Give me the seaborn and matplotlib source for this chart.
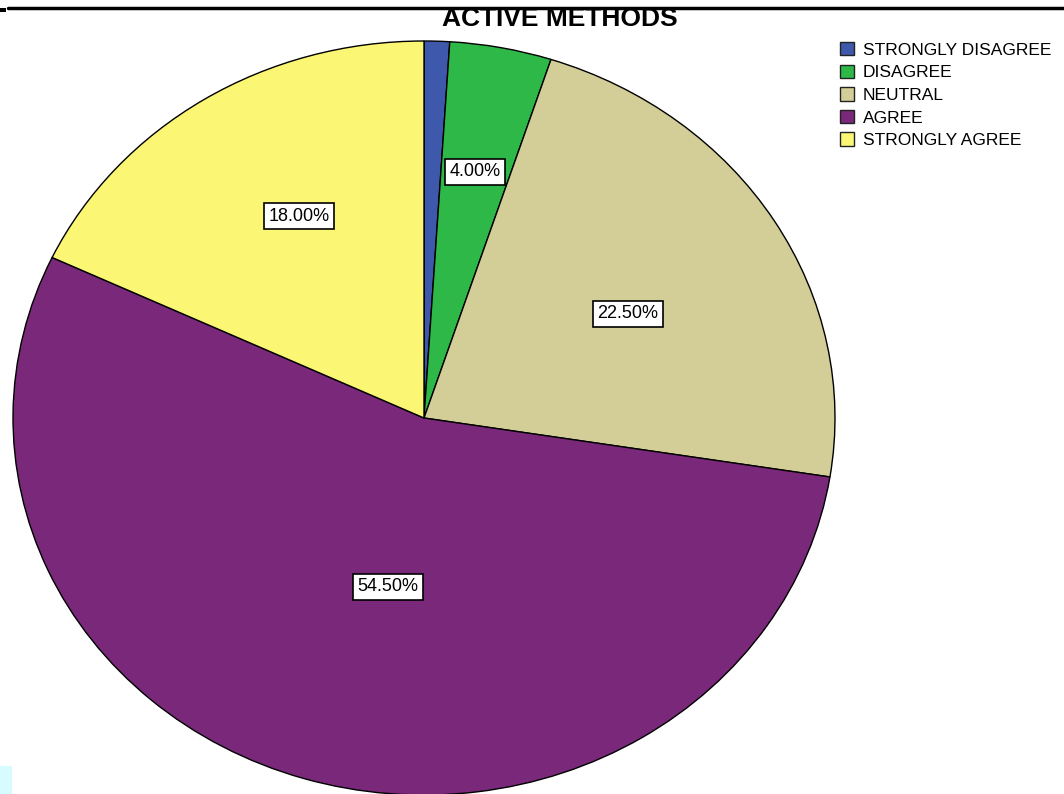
import matplotlib
matplotlib.use("Agg")
import matplotlib.pyplot as plt
import numpy as np
import seaborn as sns
from matplotlib.patches import Patch, Rectangle
from matplotlib.lines import Line2D

# data
categories = ["STRONGLY DISAGREE", "DISAGREE", "NEUTRAL", "AGREE", "STRONGLY AGREE"]
percent = [1.0, 4.0, 22.5, 54.5, 18.0]
show_label = [False, True, True, True, True]

colors = ["#3E58AC", "#2EB848", "#D3CE97", "#7A287A", "#FBF674"]
# label box placement (SPSS style): radius and clockwise shift (deg) from wedge middle
label_r = [0.6, 0.665, 0.568, 0.456, 0.616]
label_shift = [0.0, 0.0, 2.4, -6.0, 2.8]

sns.set_theme(style="white")
plt.rcParams["font.family"] = ["Liberation Sans", "DejaVu Sans"]
plt.rcParams["text.color"] = "black"

W, H = 1064, 794
fig = plt.figure(figsize=(W / 100, H / 100), dpi=100)

# pie box in pixels: x 13..835, y 41..795 (image coords)
ax = fig.add_axes([13 / W, (H - 795) / H, 822 / W, 754 / H])
wedges, texts, autotexts = ax.pie(
    percent,
    colors=colors,
    startangle=90,
    counterclock=False,
    autopct="%.2f%%",
    wedgeprops=dict(edgecolor="black", linewidth=1),
    textprops=dict(fontsize=13, color="black"),
)
ax.set_aspect("auto")
ax.set_xlim(-1, 1)
ax.set_ylim(-1, 1)
ax.axis("off")
for w in wedges:
    w.set_clip_on(False)

for w, t, r, s, show in zip(wedges, autotexts, label_r, label_shift, show_label):
    if not show:
        t.set_visible(False)
        continue
    mid = np.deg2rad((w.theta1 + w.theta2) / 2 - s)
    t.set_position((r * np.cos(mid), r * np.sin(mid)))
    t.set_bbox(dict(boxstyle="square,pad=0.25", facecolor="white", edgecolor="black", linewidth=1.2))

fig.text(560 / W, 1 - 19 / H, "ACTIVE METHODS", ha="center", va="center",
         fontsize=19, fontweight="bold", color="black")

handles = [Patch(facecolor=c, edgecolor="#222222", linewidth=1.0, label=l) for c, l in zip(colors, categories)]
fig.legend(handles=handles, loc="upper left", bbox_to_anchor=(840 / W, 1 - 42 / H),
           frameon=False, fontsize=12.5, handlelength=0.8, handleheight=0.8,
           handletextpad=0.5, labelspacing=0.4, borderpad=0, borderaxespad=0)

# page rule at the top and small decorations
fig.add_artist(Line2D([8 / W, 1], [1 - 8 / H, 1 - 8 / H], color="black", linewidth=2.5))
fig.add_artist(Rectangle((0, 1 - 12 / H), 6 / W, 4 / H, facecolor="black", edgecolor="none"))
fig.add_artist(Rectangle((0, 0), 12 / W, 28 / H, facecolor="#D6FCFF", edgecolor="none"))

fig.savefig("out.png", dpi=100)
